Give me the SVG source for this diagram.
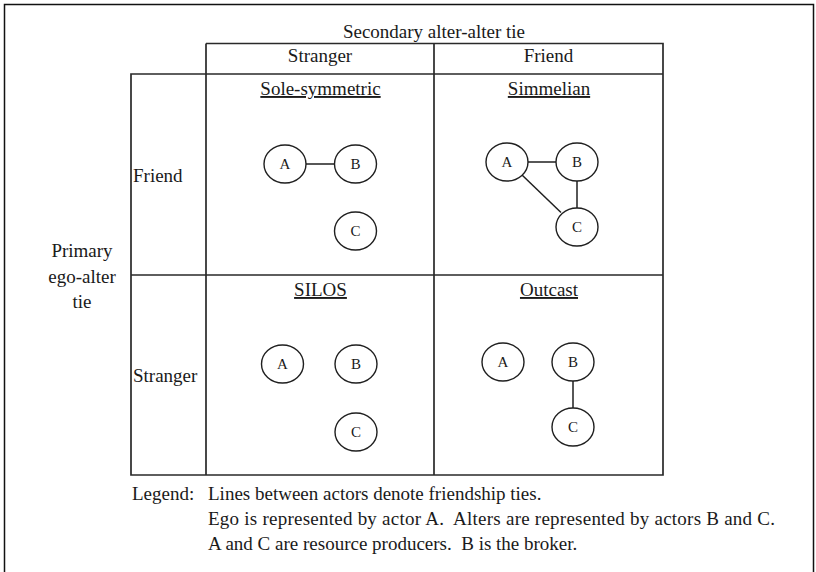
<svg xmlns="http://www.w3.org/2000/svg" width="816" height="572" viewBox="0 0 816 572">
<style>
  text { font-family: "Liberation Serif", "Times New Roman", serif; fill: #1a1a1a; }
  .t { font-size: 19px; }
  .mid { text-anchor: middle; }
  .ttl { font-size: 19px; text-anchor: middle; text-decoration: underline; }
  .grid { stroke: #2a2a2a; stroke-width: 1.7; fill: none; }
  .node ellipse { fill: #fff; stroke: #1f1f1f; stroke-width: 1.4; }
  .node text { font-size: 15px; text-anchor: middle; }
  .edge { stroke: #1f1f1f; stroke-width: 1.5; fill: none; }
  .pre { white-space: pre; }
</style>
<rect width="816" height="572" fill="#fff"/>
<path d="M4.5,572 V4.5 H813.5 V572" fill="none" stroke="#111" stroke-width="1.5"/>

<g id="table">
  <path class="grid" d="M206,43.5 H663 V475 H131 V74 H663 M206,43.5 V475 M434,43.5 V475 M131,275 H663"/>
  <text class="t mid" x="434" y="38">Secondary alter-alter tie</text>
  <text class="t mid" x="320" y="62">Stranger</text>
  <text class="t mid" x="548.5" y="62">Friend</text>
  <text class="t" x="133" y="182">Friend</text>
  <text class="t" x="133" y="382">Stranger</text>
  <text class="t mid" x="82" y="257">Primary</text>
  <text class="t mid" x="82" y="283">ego-alter</text>
  <text class="t mid" x="82" y="308">tie</text>
  <text class="ttl" x="320.5" y="95">Sole-symmetric</text>
  <text class="ttl" x="549" y="95">Simmelian</text>
  <text class="ttl" x="320.5" y="296">SILOS</text>
  <text class="ttl" x="549" y="296">Outcast</text>
</g>

<g id="connectors">
  <line class="edge" x1="306" y1="164" x2="335" y2="164"/>
  <line class="edge" x1="528" y1="162" x2="556" y2="162"/>
  <line class="edge" x1="577" y1="181" x2="577" y2="208"/>
  <line class="edge" x1="522" y1="175" x2="561" y2="212.5"/>
  <line class="edge" x1="573" y1="381" x2="573" y2="408"/>
</g>

<g id="sole-A" class="node"><ellipse cx="285" cy="164" rx="21" ry="19"/><text x="285" y="169">A</text></g>
<g id="sole-B" class="node"><ellipse cx="355.5" cy="164" rx="21" ry="19"/><text x="355.5" y="169">B</text></g>
<g id="sole-C" class="node"><ellipse cx="355.5" cy="231" rx="21" ry="19"/><text x="355.5" y="236">C</text></g>

<g id="simm-A" class="node"><ellipse cx="507" cy="162" rx="21" ry="19"/><text x="507" y="167">A</text></g>
<g id="simm-B" class="node"><ellipse cx="577" cy="162" rx="21" ry="19"/><text x="577" y="167">B</text></g>
<g id="simm-C" class="node"><ellipse cx="577" cy="227" rx="21" ry="19"/><text x="577" y="232">C</text></g>

<g id="silos-A" class="node"><ellipse cx="282.5" cy="364" rx="21" ry="19"/><text x="282.5" y="369">A</text></g>
<g id="silos-B" class="node"><ellipse cx="356" cy="364" rx="21" ry="19"/><text x="356" y="369">B</text></g>
<g id="silos-C" class="node"><ellipse cx="356" cy="432" rx="21" ry="19"/><text x="356" y="437">C</text></g>

<g id="out-A" class="node"><ellipse cx="503" cy="362" rx="21" ry="19"/><text x="503" y="367">A</text></g>
<g id="out-B" class="node"><ellipse cx="573" cy="362" rx="21" ry="19"/><text x="573" y="367">B</text></g>
<g id="out-C" class="node"><ellipse cx="573" cy="427" rx="21" ry="19"/><text x="573" y="432">C</text></g>

<g id="legend">
  <text class="t" x="132" y="500">Legend:</text>
  <text class="t pre" x="208" y="500">Lines between actors denote friendship ties.</text>
  <text class="t pre" x="208" y="525" textLength="567" lengthAdjust="spacing">Ego is represented by actor A.  Alters are represented by actors B and C.</text>
  <text class="t pre" x="208" y="550">A and C are resource producers.  B is the broker.</text>
</g>
</svg>
